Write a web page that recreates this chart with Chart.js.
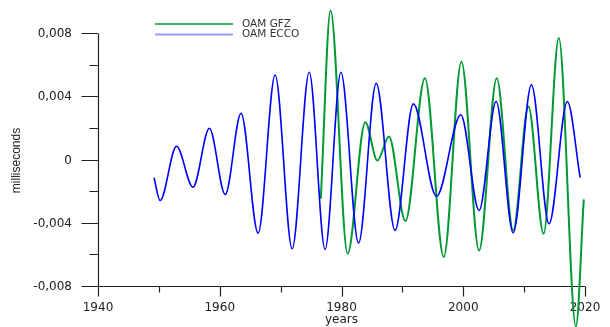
<!DOCTYPE html>
<html>
<head>
<meta charset="utf-8">
<script src="https://cdn.jsdelivr.net/npm/chart.js@4/dist/chart.umd.min.js"></script>
<style>
  html, body { margin: 0; padding: 0; background: #fff; }
  #wrap { width: 610px; height: 327px; }
</style>
</head>
<body>
<div id="wrap"><canvas id="myChart"></canvas></div>
<script>
// OAM ECCO - peaks and troughs (year, ms)
var eccoYears = [1949.2, 1950.2, 1952.9, 1955.6, 1958.3, 1960.9, 1963.5, 1966.3, 1969.1, 1971.9,
  1974.7, 1977.3, 1979.9, 1982.8, 1985.7, 1988.8, 1991.8, 1995.6, 1999.6, 2002.6,
  2005.4, 2008.2, 2011.2, 2014.1, 2017.1, 2019.2];
var eccoValues = [-0.00109, -0.00253, 0.00090, -0.00169, 0.00204, -0.00215, 0.00299, -0.00459, 0.00541, -0.00558,
  0.00558, -0.00562, 0.00558, -0.00522, 0.00488, -0.00442, 0.00358, -0.00227, 0.00289, -0.00316,
  0.00373, -0.00457, 0.00478, -0.00400, 0.00373, -0.00109];

// OAM GFZ
var gfzYears = [1976.6, 1978.2, 1981.0, 1983.9, 1985.9, 1987.8, 1990.5, 1993.7, 1996.8, 1999.7,
  2002.6, 2005.5, 2008.2, 2010.7, 2013.2, 2015.7, 2018.5, 2019.8];
var gfzValues = [-0.00242, 0.00948, -0.00590, 0.00242, 0.0, 0.00152, -0.00383, 0.00520, -0.00610, 0.00625,
  -0.00569, 0.00520, -0.00442, 0.00341, -0.00463, 0.00775, -0.01050, -0.00246];

var xLabelYears = [1940, 1960, 1980, 2000, 2020];
var yTickValues = [-0.008, -0.004, 0, 0.004, 0.008];
var yTickLabels = ["-0,008", "-0,004", "0", "0,004", "0,008"];

var seriesNames = ["OAM GFZ", "OAM ECCO"];
var seriesColors = ["#009933", "#0000ff"];

function toPoints(xs, ys) {
  return xs.map(function (x, i) { return { x: x, y: ys[i] }; });
}

var tickFont = { family: "DejaVu Sans", size: 12 };

// axis lines and tick marks (long majors, short minors)
var axesPlugin = {
  id: "axes",
  beforeDatasetsDraw: function (chart) {
    var ctx = chart.ctx, a = chart.chartArea, sx = chart.scales.x, sy = chart.scales.y;
    var left = Math.round(a.left) + 0.5, bottom = Math.round(a.bottom) - 0.5;
    ctx.save();
    ctx.strokeStyle = "#222";
    ctx.lineWidth = 1.2;
    ctx.beginPath();
    ctx.moveTo(left, a.top);
    ctx.lineTo(left, bottom);
    ctx.lineTo(a.right, bottom);
    sx.ticks.forEach(function (t) {
      var px = Math.round(sx.getPixelForValue(t.value)) + 0.5;
      var major = xLabelYears.indexOf(Math.round(t.value)) >= 0;
      ctx.moveTo(px, bottom);
      ctx.lineTo(px, bottom + (major ? 10 : 6));
    });
    sy.ticks.forEach(function (t) {
      var py = Math.round(sy.getPixelForValue(t.value)) - 0.5;
      var major = Math.round(t.value * 1000) % 4 === 0;
      ctx.moveTo(left, py);
      ctx.lineTo(left - (major ? 17 : 9), py);
    });
    ctx.stroke();
    ctx.restore();
  },
  afterDraw: function (chart) {
    var ctx = chart.ctx;
    ctx.save();
    ctx.font = "10.5px 'DejaVu Sans'";
    ctx.textBaseline = "middle";
    ctx.fillStyle = "#333";
    var rows = [24, 34.5];
    var legendColors = ["#00a033", "#9999ff"];
    var widths = [1.3, 1.8];
    rows.forEach(function (ry, i) {
      ctx.strokeStyle = legendColors[i];
      ctx.lineWidth = widths[i];
      ctx.beginPath();
      ctx.moveTo(155, ry);
      ctx.lineTo(233, ry);
      ctx.stroke();
      ctx.fillText(seriesNames[i], 242, ry);
    });
    ctx.restore();
  }
};

var ctx = document.getElementById("myChart").getContext("2d");

var myChart = new Chart(ctx, {
  type: "line",
  data: {
    datasets: [
      {
        label: seriesNames[0],
        data: toPoints(gfzYears, gfzValues),
        borderColor: seriesColors[0],
        borderWidth: 2,
        order: 1,
      },
      {
        label: seriesNames[1],
        data: toPoints(eccoYears, eccoValues),
        borderColor: seriesColors[1],
        borderWidth: 1.6,
        order: 0,
      },
    ],
  },
  options: {
    responsive: true,
    maintainAspectRatio: false,
    animation: false,
    clip: false,
    layout: { padding: { left: 0, right: 25, top: 34, bottom: 0 } },
    elements: {
      point: { radius: 0, hoverRadius: 0 },
      line: { cubicInterpolationMode: "monotone", fill: false },
    },
    plugins: {
      legend: { display: false },
      tooltip: { enabled: false },
    },
    scales: {
      x: {
        type: "linear",
        min: 1940,
        max: 2020,
        afterFit: function (s) {
          s.height = 40;
          s.paddingLeft = 0;
          s.paddingRight = 0;
        },
        grid: { display: false, drawTicks: false },
        border: { display: false },
        ticks: {
          stepSize: 10,
          autoSkip: false,
          maxRotation: 0,
          padding: 14,
          color: "#222",
          font: tickFont,
          callback: function (v) {
            return xLabelYears.indexOf(Math.round(v)) >= 0 ? String(Math.round(v)) : "";
          },
        },
        title: {
          display: true,
          text: "years",
          color: "#222",
          font: { family: "DejaVu Sans", size: 12 },
          padding: { top: 0, bottom: 0 },
        },
      },
      y: {
        min: -0.008,
        max: 0.008,
        afterFit: function (s) { s.width = 98; },
        grid: { display: false, drawTicks: false },
        border: { display: false },
        ticks: {
          stepSize: 0.002,
          autoSkip: false,
          padding: 26,
          color: "#222",
          font: tickFont,
          callback: function (v) {
            for (var i = 0; i < yTickValues.length; i++) {
              if (Math.abs(yTickValues[i] - v) < 1e-9) return yTickLabels[i];
            }
            return "";
          },
        },
        title: {
          display: true,
          text: "milliseconds",
          color: "#222",
          font: { family: "Liberation Sans", size: 12 },
          padding: { top: 9, bottom: 0 },
        },
      },
    },
  },
  plugins: [axesPlugin],
});
</script>
</body>
</html>
